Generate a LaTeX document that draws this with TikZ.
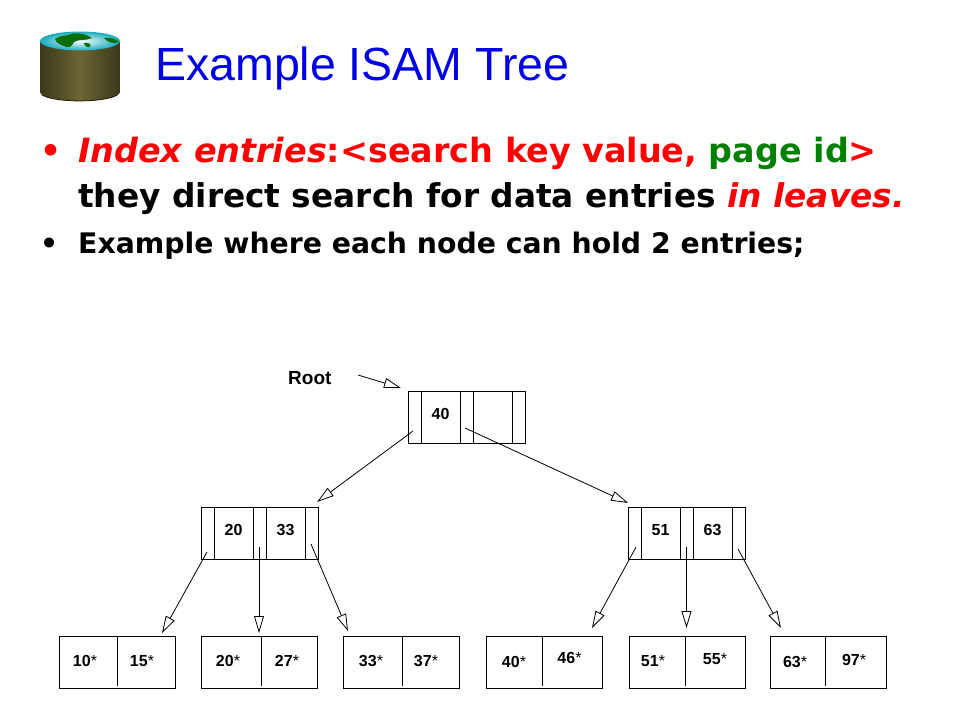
\documentclass[tikz,border=0pt]{standalone}
\usepackage{fontspec}
\setmainfont{Liberation Sans}
\newfontfamily\bulletfont{DejaVu Sans}
\usetikzlibrary{
        arrows.meta,
        positioning
    }
\definecolor{titleblue}{RGB}{0,0,230}
\definecolor{keyred}{RGB}{255,0,0}
\definecolor{keygreen}{RGB}{0,128,0}
\definecolor{barrel}{RGB}{108,102,52}
\definecolor{barreldark}{RGB}{58,56,26}
\definecolor{seadark}{RGB}{24,170,190}
\definecolor{land}{RGB}{10,110,10}
\tikzset{>={Triangle[open,fill=white,length=17pt,width=10pt]},x=1pt,y=-1pt}
\tikzset{ptrcell/.style={draw,line width=0.9pt,minimum width=13pt,minimum height=52pt,inner sep=0pt,outer sep=0pt}}
\tikzset{keycell/.style={ptrcell,minimum width=39pt,font=\fontsize{16}{16}\bfseries\selectfont,text height=11pt,text depth=7pt}}
\tikzset{leafbox/.style={draw,line width=0.9pt,minimum width=116pt,minimum height=52pt,inner sep=0pt}}
\tikzset{leafkey/.style={inner sep=0pt,font=\fontsize{16}{16}\bfseries\selectfont}}
\tikzset{bigline/.style={anchor=base west,inner sep=0pt,font=\bulletfont\fontsize{33}{33}\bfseries\selectfont}}

\begin{document}
\begin{tikzpicture}
    \useasboundingbox (0,0) rectangle (960,720);
    % barrel
    \path[left color=barreldark,right color=barreldark,middle color=barrel]
        (40,42) -- (40,92) arc[start angle=180,end angle=0,x radius=40,y radius=9] -- (120,42) -- cycle;
    \draw[barreldark!50!black,line width=0.8pt] (42,95) arc[start angle=160,end angle=20,x radius=40,y radius=9];
    \path[inner color=white,outer color=seadark] (80,41) ellipse[x radius=40,y radius=9.5];
    \fill[land] (55,39) .. controls (60,35) and (66,36) .. (68,35) .. controls (75,32) and (85,33) .. (92,38) .. controls (86,41) and (78,39) .. (74,42) .. controls (72,46) and (70,48) .. (66,47) .. controls (62,45) and (56,44) .. (55,39) -- cycle;
    \fill[land] (104,38) .. controls (110,37) and (116,39) .. (119,42) .. controls (114,44) and (108,43) .. (104,38) -- cycle;
    \fill[land] (84,43) .. controls (88,42) and (92,44) .. (90,47) .. controls (88,48) and (84,46) .. (84,43) -- cycle;
    % heading
    \node[anchor=base west,inner sep=0pt,text=titleblue,font=\fontsize{46.5}{46.5}\selectfont] (title) at (155,80) {Example ISAM Tree};
    \node[bigline,text=keyred] (dot1) at (40,162) {\textbullet};
    \node[bigline,text=keyred,font=\bulletfont\fontsize{33.4}{33.4}\bfseries\selectfont] (line1) at (78,162) {\textit{Index entries}:<search key value, \textcolor{keygreen}{page id}>};
    \node[bigline,font=\bulletfont\fontsize{32.8}{32.8}\bfseries\selectfont] (line2) at (78,207) {they direct search for data entries \textcolor{keyred}{\itshape in leaves.}};
    \node[bigline,font=\bulletfont\fontsize{28.3}{28.3}\bfseries\selectfont] (dot2) at (40,253) {\textbullet};
    \node[bigline,font=\bulletfont\fontsize{28.3}{28.3}\bfseries\selectfont] (line3) at (78,253) {Example where each node can hold 2 entries;};
    % index nodes
    \node[ptrcell] (a0) at (414.5,417.5) {};
    \node[keycell,right=0pt of a0] (a1) {40};
    \node[ptrcell,right=0pt of a1] (a2) {};
    \node[keycell,right=0pt of a2] (a3) {};
    \node[ptrcell,right=0pt of a3] (a4) {};
    \node[ptrcell] (b0) at (207.5,533) {};
    \node[keycell,right=0pt of b0] (b1) {20};
    \node[ptrcell,right=0pt of b1] (b2) {};
    \node[keycell,right=0pt of b2] (b3) {33};
    \node[ptrcell,right=0pt of b3] (b4) {};
    \node[ptrcell] (c0) at (634.5,533) {};
    \node[keycell,right=0pt of c0] (c1) {51};
    \node[ptrcell,right=0pt of c1] (c2) {};
    \node[keycell,right=0pt of c2] (c3) {63};
    \node[ptrcell,right=0pt of c3] (c4) {};
    % leaves
    \foreach \name/\x/\bx/\xa/\ya/\ka/\xb/\yb/\kb in {
            l1/117.5/117/85/661/10/142/661/15,
            l2/259/261/228/661/20/287/661/27,
            l3/401.5/402/371/661/33/426/661/37,
            l4/544.5/542/514/662/40/569.5/658/46,
            l5/687/685/653/661/51/715/659/55,
            l6/828.5/825/795/662/63/854/660/97} {
        \node[leafbox] (\name) at (\x,662) {};
        \draw[line width=0.9pt] (\bx,637) -- (\bx,686);
        \node[leafkey] (\name a) at (\xa,\ya) {\ka\textmd{*}};
        \node[leafkey] (\name b) at (\xb,\yb) {\kb\textmd{*}};
    }
    % root and arrow ends
    \node[anchor=base west,inner sep=0pt,font=\fontsize{19}{19}\bfseries\selectfont] (root) at (288,384) {Root};
    \coordinate (rootstart) at (358,375);
    \coordinate (rootend) at (401,388);
    \coordinate (a0s) at (413,431);
    \coordinate (a2s) at (465,428);
    \coordinate (b0e) at (317,502);
    \coordinate (c0e) at (628,503);
    \coordinate (b0s) at (207,552);
    \coordinate (b2s) at (259,547);
    \coordinate (b4s) at (311,544);
    \coordinate (c0s) at (636,547);
    \coordinate (c2s) at (686.5,547);
    \coordinate (c4s) at (738,549);
    \coordinate (l1e) at (162,633);
    \coordinate (l2e) at (259,633);
    \coordinate (l3e) at (348,631);
    \coordinate (l4e) at (592,628);
    \coordinate (l5e) at (686.5,628);
    \coordinate (l6e) at (781,628);
    \path[->,line width=0.8pt]
        (rootstart) edge (rootend)
        (a0s) edge (b0e)
        (a2s) edge (c0e)
        (b0s) edge (l1e)
        (b2s) edge (l2e)
        (b4s) edge (l3e)
        (c0s) edge (l4e)
        (c2s) edge (l5e)
        (c4s) edge (l6e)
    ;
\end{tikzpicture}
\end{document}
